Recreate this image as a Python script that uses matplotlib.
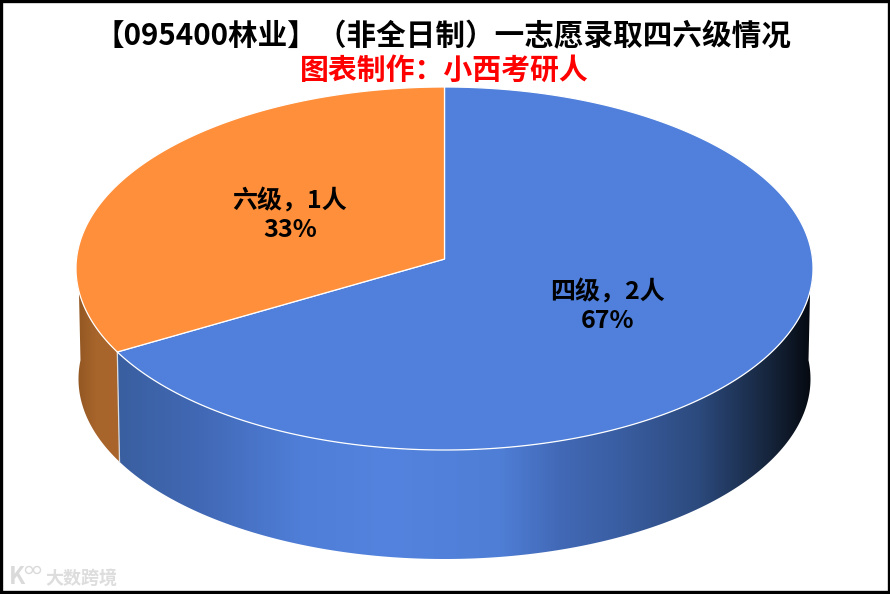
import numpy as np
import matplotlib
matplotlib.use('Agg')
import matplotlib.pyplot as plt
from matplotlib.colors import LinearSegmentedColormap
from matplotlib.patches import Polygon, Circle, Rectangle

plt.rcParams['font.family'] = ['Noto Sans CJK SC', 'DejaVu Sans']

title = '【095400林业】（非全日制）一志愿录取四六级情况'
subtitle = '图表制作：小西考研人'
categories = ['四级', '六级']
counts = [2, 1]
percents = ['67%', '33%']

top_colors = ['#5080DB', '#FF8F3A']
blue_side = [(0, '#3A5FA0'), (0.115, '#4168B4'), (0.26, '#4F7ED8'), (0.39, '#5383DE'), (0.55, '#4F7ED6'),
             (0.635, '#4269B6'), (0.72, '#3A5EA2'), (0.836, '#2C4A7D'), (0.937, '#16253C'), (1, '#05090F')]
orange_side = [(0, '#8F5522'), (0.5, '#A9662C'), (1, '#A8642A')]

CX, CY, RX, RY = 444.5, 268.5, 368.5, 181.5  # top ellipse in px
BCX, BCY, BRX, BRY = 444.5, 379.0, 366.0, 180.0  # bottom ellipse in px
A = -0.052  # perspective, moves the apex up from the ellipse centre


def rim(deg, cx, cy, rx, ry):
    """Ellipse point, deg is clockwise from 12 o'clock, with a bit of perspective."""
    t = np.radians(deg)
    u, v = np.sin(t), -np.cos(t)
    d = 1 + A * v
    return np.column_stack([cx + rx * u * np.sqrt(1 - A ** 2) / d, cy + ry * (v + A) / d])


fig = plt.figure(figsize=(8.9, 5.94), dpi=100)
ax = fig.add_axes([0, 0, 1, 1])

total = sum(counts)
edges = np.cumsum([0] + counts) / total * 360

# side walls first, only the part facing the viewer
side_ranges = [(87, edges[1]), (edges[1], 273)]
side_maps = [blue_side, orange_side]
x_ranges = [(118, 814), (75, 120)]
for (a0, a1), cols, (x0, x1) in zip(side_ranges, side_maps, x_ranges):
    ang = np.linspace(a0, a1, 200)
    pts = np.vstack([rim(ang, CX, CY, RX, RY), rim(ang[::-1], BCX, BCY, BRX, BRY)])
    poly = Polygon(pts, closed=True, fc='none', ec='none')
    ax.add_patch(poly)
    cmap = LinearSegmentedColormap.from_list('side', cols)
    im = ax.imshow(np.linspace(0, 1, 256)[None, :], cmap=cmap, aspect='auto',
                   extent=(x0, x1, 600, 80), zorder=1)
    im.set_clip_path(poly)

# white seam between the walls
seam = np.vstack([rim(edges[1], CX, CY, RX, RY), rim(edges[1], BCX, BCY, BRX, BRY)])
ax.plot(seam[:, 0], seam[:, 1], color='#D8DCE4', lw=0.9, zorder=2)

# top of the pie
apex = np.array([[CX, CY + RY * A]])
for i, col in enumerate(top_colors):
    ang = np.linspace(edges[i], edges[i + 1], 300)
    pts = np.vstack([apex, rim(ang, CX, CY, RX, RY)])
    ax.add_patch(Polygon(pts, closed=True, fc=col, ec='white', lw=0.9, zorder=3))

ax.text(442.5, 36, title, ha='center', va='center', fontsize=21.3, fontweight='bold', color='black', zorder=5)
ax.text(444, 70, subtitle, ha='center', va='center', fontsize=20.8, fontweight='bold', color='#FF0000', zorder=5)

label_pos = [(608, 306), (290, 215)]
for cat, n, pct, (lx, ly) in zip(categories, counts, percents, label_pos):
    ax.text(lx, ly, f'{cat}，{n}人\n{pct}', ha='center', va='center', fontsize=18, fontweight='bold',
            color='black', linespacing=1.23, zorder=5)

# watermark
ax.text(81, 578, '大数跨境', ha='center', va='center', fontsize=13, fontweight='bold', color='#DDDDDD', zorder=5)
ax.text(17, 577, 'K', ha='center', va='center', fontsize=17, fontweight='bold', color='#DADADA', zorder=5)
for wx in (29, 37):
    ax.add_patch(Circle((wx, 570), 3.5, fc='none', ec='#DADADA', lw=1, zorder=5))

ax.add_patch(Rectangle((1, 1), 887.5, 591, fc='none', ec='black', lw=2.4, zorder=6))

ax.set_xlim(0, 890)
ax.set_ylim(594, 0)
ax.axis('off')
fig.savefig('out.png', dpi=100, facecolor='white')
plt.close(fig)
